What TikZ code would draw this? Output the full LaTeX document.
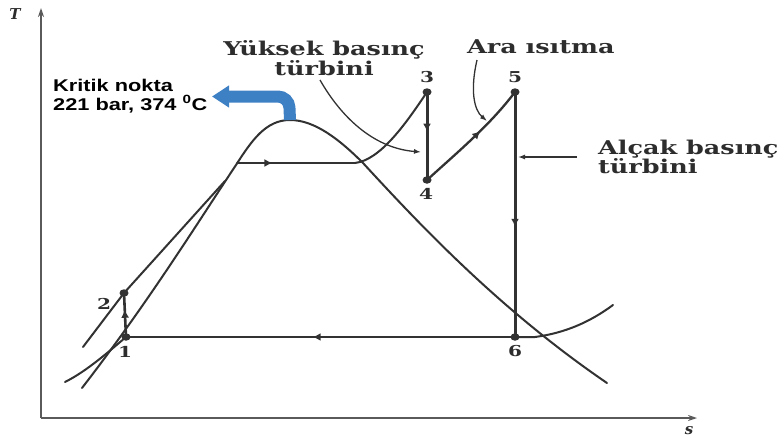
\documentclass[tikz,border=0pt]{standalone}
\usepackage{fontspec}
\setmainfont{DejaVu Serif}
\newfontfamily\lblfont{DejaVu Serif}[FakeStretch=1.34]
\newfontfamily\kfont{Liberation Sans}[FakeStretch=1.28]
\usetikzlibrary{arrows.meta,decorations.markings,shapes.geometric}
\definecolor{curvegray}{RGB}{50,50,50}
\definecolor{axisgray}{RGB}{90,90,90}
\definecolor{textgray}{RGB}{45,45,45}
\definecolor{critblue}{RGB}{62,128,196}
\tikzset{
  curve/.style={draw=curvegray, line width=2pt, line cap=round},
  proc/.style={curve, line width=3pt},
  midarrow/.style={postaction={decorate}, decoration={markings,
      mark=at position #1 with {\arrow{Latex[length=8pt,width=8pt]}}}},
  leader/.style={draw=curvegray, line width=1.3pt, -{Latex[length=7pt,width=5pt]}},
  axis/.style={draw=axisgray, line width=2pt, -{Stealth[length=9pt,width=6pt]}},
  lbl/.style={font=\lblfont\bfseries\fontsize{19}{18}\selectfont, text=textgray, inner sep=0pt},
  num/.style={font=\lblfont\bfseries\fontsize{15}{15}\selectfont, text=textgray, inner sep=0pt},
  axlbl/.style={font=\itshape\bfseries\fontsize{15}{15}\selectfont, text=textgray, inner sep=0pt},
  dot/.style={ellipse, fill=curvegray, minimum width=9pt, minimum height=7.5pt, inner sep=0pt},
  crit/.style={font=\kfont\bfseries\fontsize{17}{19}\selectfont, text=black, inner sep=0pt, align=left}
}
\begin{document}
\begin{tikzpicture}[x=1pt,y=-1pt]
\useasboundingbox (0,0) rectangle (779,442);
% axes
\coordinate (O) at (41,418);
\coordinate (Ttop) at (41,8);
\coordinate (Send) at (697,418);
\draw[axis] (O) -- (Ttop);
\draw[axis] (O) -- (Send);
\node[axlbl] (Tl) at (15,14) {T};
\node[axlbl] (sl) at (689,431) {s};
% state points
\coordinate (p1) at (126,337);
\coordinate (p2) at (124,293);
\coordinate (p3) at (427,92);
\coordinate (p4) at (427,180);
\coordinate (p5) at (515,92);
\coordinate (p6) at (515,337);
% auxiliary coordinates
\coordinate (domeL) at (82,388);
\coordinate (domeS) at (236,165);
\coordinate (peak) at (290,120);
\coordinate (domeR1) at (363,163);
\coordinate (domeR) at (607,383);
\coordinate (c2low) at (83,347);
\coordinate (c2top) at (225,181);
\coordinate (boil) at (237,163);
\coordinate (sup) at (355,163);
\coordinate (lowL) at (65,382);
\coordinate (lowR0) at (535,337);
\coordinate (lowR) at (613,305);
% saturation dome
\draw[curve] (domeL) .. controls (150,300) and (198,222) .. (domeS)
  .. controls (252,140) and (266,120) .. (peak)
  .. controls (315,120) and (340,140) .. (domeR1)
  .. controls (420,225) and (500,310) .. (domeR);
% high-pressure compressed liquid line
\draw[curve] (c2low) -- (p2) -- (c2top);
% boiling + superheating to 3
\draw[curve, midarrow=0.3] (boil) -- (sup);
\draw[curve] (sup) .. controls (380,160) and (405,125) .. (p3);
% low pressure isobar
\draw[curve] (p1) .. controls (105,355) and (85,372) .. (lowL);
\draw[curve] (p6) -- (lowR0) .. controls (565,333) and (590,322) .. (lowR);
\draw[curve, midarrow=0.52] (p6) -- (p1);
% processes
\draw[proc, line width=2.6pt, midarrow=0.62] (p1) -- (p2);
\draw[proc, midarrow=0.45] (p3) -- (p4);
\draw[curve, line width=2.3pt, midarrow=0.58] (p4) .. controls (460,150) and (490,125) .. (p5);
\draw[proc, midarrow=0.55] (p5) -- (p6);
% dots
\foreach \i in {1,...,6} \node[dot] (d\i) at (p\i) {};
% point labels
\node[num] (n1) at (125,352) {1};
\node[num] (n2) at (104,304) {2};
\node[num] (n3) at (427,77) {3};
\node[num] (n4) at (426,194) {4};
\node[num] (n5) at (515,77) {5};
\node[num] (n6) at (515,351) {6};
% text labels
\node[lbl, align=center, anchor=north] (hp) at (324,40.5) {Yüksek basınç\\türbini};
\node[lbl, anchor=base west] (ri) at (467,53) {Ara ısıtma};
\node[lbl, align=left, anchor=north west] (lp) at (598,139.5) {Alçak basınç\\türbini};
% leaders
\coordinate (hpS) at (320,80);
\coordinate (hpE) at (421,152);
\draw[leader] (hpS) .. controls (340,115) and (372,148) .. (hpE);
\coordinate (riS) at (477,60);
\coordinate (riE) at (487,121);
\draw[leader] (riS) .. controls (470,90) and (474,110) .. (riE);
\coordinate (lpS) at (577,157);
\coordinate (lpE) at (518,157);
\draw[leader] (lpS) -- (lpE);
% critical point
\node[crit, anchor=north west] (kn) at (53,78.5) {Kritik nokta\\221 bar, 374 \textsuperscript{0}C};
\coordinate (bend) at (289,96.5);
\coordinate (btip) at (212,96.5);
\draw[draw=critblue, line width=12pt, rounded corners=11pt,
      -{Triangle[length=17pt,width=21pt]}] (peak) -- (bend) -- (btip);
\end{tikzpicture}
\end{document}
